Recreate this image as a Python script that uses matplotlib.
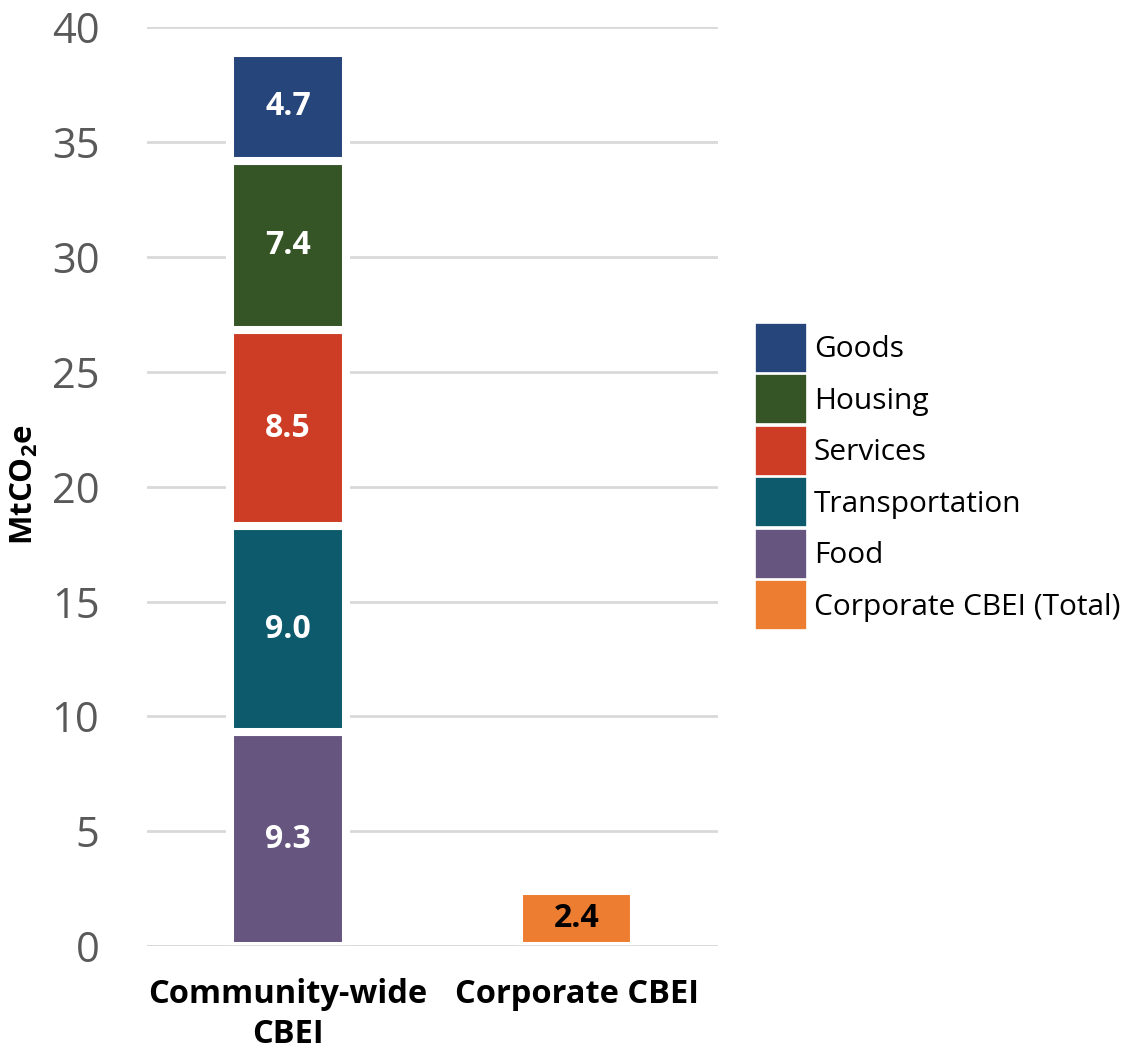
import matplotlib
matplotlib.use("Agg")
import matplotlib.pyplot as plt
from matplotlib.patches import Patch

plt.rcParams['font.family'] = ['Open Sans', 'DejaVu Sans']
plt.rcParams['mathtext.fontset'] = 'custom'
plt.rcParams['mathtext.rm'] = 'Open Sans:bold'
plt.rcParams['mathtext.bf'] = 'Open Sans:bold'

# Data (MtCO2e)
groups = ["Community-wide\nCBEI", "Corporate CBEI"]
categories = ["Food", "Transportation", "Services", "Housing", "Goods"]
community_values = [9.3, 9.0, 8.5, 7.4, 4.7]
corporate_total = 2.4
corporate_label = "Corporate CBEI (Total)"
yticks = [0, 5, 10, 15, 20, 25, 30, 35, 40]

colors = {
    "Goods": "#26457a",
    "Housing": "#365527",
    "Services": "#cd3d25",
    "Transportation": "#0c5a6c",
    "Food": "#66557f",
    corporate_label: "#ed7d31",
}

fig = plt.figure(figsize=(11.28, 10.5), dpi=100)
ax = fig.add_axes([0.130, 0.099, 0.5065, 0.875])

bar_w = 0.40
edge_lw = 5.8

bottom = 0.0
for cat, val in zip(categories, community_values):
    ax.bar(0, val, bottom=bottom, width=bar_w, color=colors[cat],
           edgecolor="white", linewidth=edge_lw, zorder=2)
    ax.text(0, bottom + val / 2, f"{val:.1f}", ha="center", va="center",
            color="white", fontsize=23, fontweight="bold", zorder=3)
    bottom += val

ax.bar(1, corporate_total, width=bar_w, color=colors[corporate_label],
       edgecolor="white", linewidth=edge_lw, zorder=2)
ax.text(1, corporate_total / 2, f"{corporate_total:.1f}", ha="center",
        va="center", color="black", fontsize=23, fontweight="bold", zorder=3)

ax.set_xlim(-0.49, 1.49)
ax.set_ylim(0, 40)
ax.set_yticks(yticks)
ax.set_yticklabels([str(t) for t in yticks])
ax.yaxis.grid(True, color="#d9d9d9", linewidth=2)
ax.set_axisbelow(True)
ax.axhline(0, color="#d9d9d9", linewidth=2, zorder=4)

for s in ax.spines.values():
    s.set_visible(False)

ax.tick_params(axis="y", length=0, pad=34, labelsize=30, labelcolor="#595959")
ax.tick_params(axis="x", length=0, pad=23)
ax.set_xticks([0, 1])
ax.set_xticklabels(groups, fontsize=23.5, fontweight="bold", color="black",
                   linespacing=1.28)

fig.text(24 / 1128, 1 - 485 / 1050, r"$\mathrm{MtCO_2e}$", rotation=90,
         ha="center", va="center", fontsize=22.5, color="black")

legend_order = ["Goods", "Housing", "Services", "Transportation", "Food",
                corporate_label]
handles = [Patch(facecolor=colors[c], edgecolor="white", linewidth=1.2)
           for c in legend_order]
leg = ax.legend(handles, legend_order, loc="center left",
                bbox_to_anchor=(1.065, 0.511), frameon=False, fontsize=21.5,
                handlelength=1.74, handleheight=2.2, handletextpad=0.23,
                labelspacing=0.05, borderpad=0, borderaxespad=0)

fig.savefig("out.png", dpi=100, facecolor="white")
